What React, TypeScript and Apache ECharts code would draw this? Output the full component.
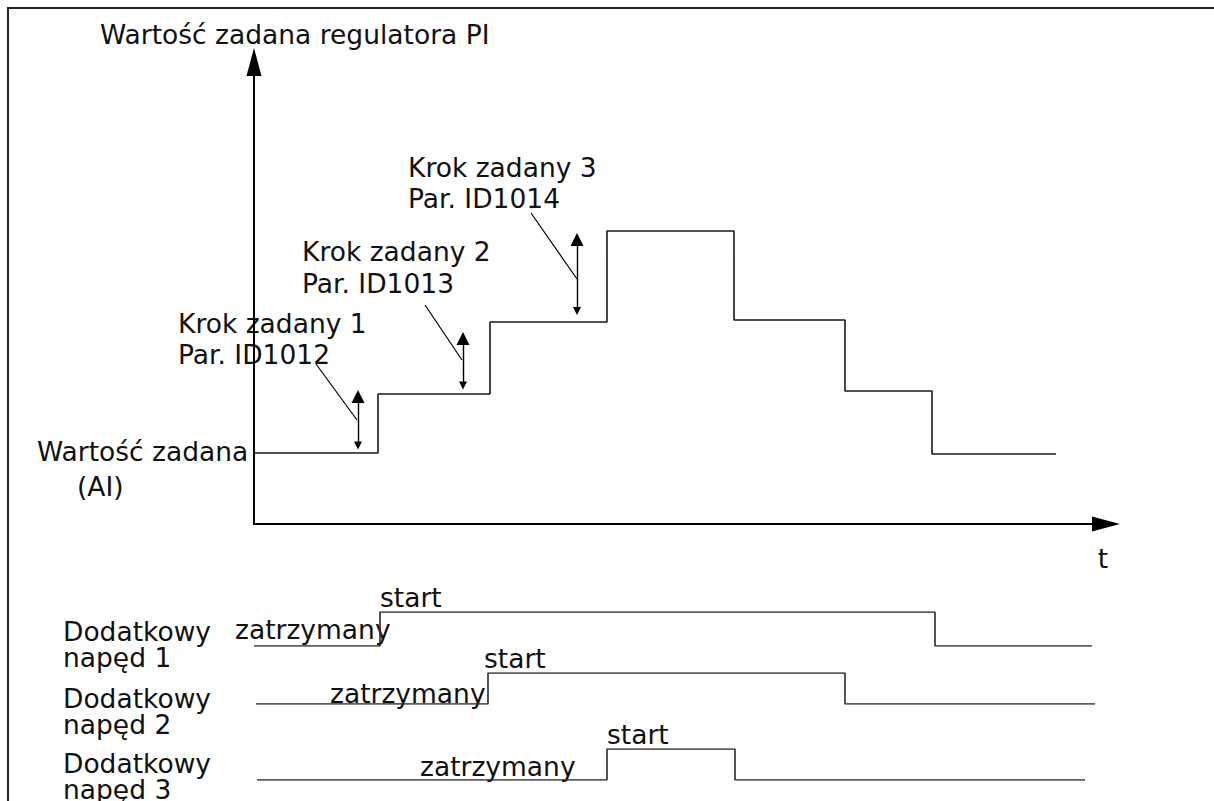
import React, { useEffect, useRef } from "react";
import * as echarts from "echarts";

// time axis (arbitrary units) and set-point levels
const setpointTimes = [0, 12.4, 23.6, 35.3, 48.0, 59.1, 67.8, 80.2];
const setpointLevels = [7.1, 13.0, 20.2, 29.3, 20.4, 13.3, 7.0, 7.0];

// auxiliary drives: 0 = zatrzymany, 1 = start
const drive1Times = [0, 12.6, 68.1, 83.8];
const drive1States = [0, 1, 0, 0];
const drive2Times = [0.2, 23.4, 59.1, 84.1];
const drive2States = [0, 1, 0, 0];
const drive3Times = [0.3, 35.3, 48.1, 83.1];
const drive3States = [0, 1, 0, 0];

// step-size double arrows: time, lower head, upper head
const arrowTimes = [10.4, 20.9, 32.3];
const arrowLow = [7.85, 13.85, 21.3];
const arrowHigh = [12.75, 18.55, 28.45];

// leader lines from labels to the arrows
const leaderFrom = [[6.2, 16.0], [17.1, 21.9], [27.7, 31.1]];
const leaderTo = [[10.3, 10.4], [20.8, 16.4], [32.3, 24.5]];

const stepLabels = ["Krok zadany 1\nPar. ID1012", "Krok zadany 2\nPar. ID1013", "Krok zadany 3\nPar. ID1014"];
const driveLabels = ["Dodatkowy\nnapęd 1", "Dodatkowy\nnapęd 2", "Dodatkowy\nnapęd 3"];
const stateStopped = "zatrzymany";
const stateStarted = "start";

const X_MAX = 85.2;
const Y_MAX = 46.2;

const FONT = "DejaVu Sans";
const FS = 26.5;
const INK = "#1a1a1a";

function zip(a: number[], b: number[]) {
  return a.map((v, i) => [v, b[i]]);
}

export default function App() {
  const ref = useRef<HTMLDivElement>(null);
  useEffect(() => {
    if (!ref.current) return;
    const chart = echarts.init(ref.current, null, { renderer: "svg" });

    const txt = (text: string, x: number, y: number, extra: any = {}) => ({
      type: "text",
      x,
      y,
      style: {
        text,
        font: `${FS}px "${FONT}"`,
        fill: "#111",
        verticalAlign: "middle",
        align: "left",
        ...extra,
      },
    });

    const hiddenAxis = (max: number, gridIndex: number) => ({
      type: "value",
      min: 0,
      max,
      gridIndex,
      show: false,
    });

    const driveSeries = (times: number[], states: number[], idx: number) => ({
      type: "line",
      xAxisIndex: idx,
      yAxisIndex: idx,
      step: "end",
      symbol: "none",
      data: zip(times, states),
      lineStyle: { color: "#2a2a2a", width: 1.6 },
      silent: true,
    });

    const option: any = {
      animation: false,
      backgroundColor: "#ffffff",
      grid: [
        { left: 254, top: 62, width: 852, height: 462 },
        { left: 254, top: 612, width: 852, height: 34 },
        { left: 254, top: 673, width: 852, height: 31 },
        { left: 254, top: 749, width: 852, height: 31 },
      ],
      xAxis: [
        {
          type: "value",
          min: 0,
          max: X_MAX,
          gridIndex: 0,
          axisLine: {
            show: true,
            onZero: false,
            symbol: ["none", "triangle"],
            symbolSize: [15, 28],
            lineStyle: { color: "#000", width: 2 },
          },
          axisTick: { show: false },
          axisLabel: { show: false },
          splitLine: { show: false },
        },
        hiddenAxis(X_MAX, 1),
        hiddenAxis(X_MAX, 2),
        hiddenAxis(X_MAX, 3),
      ],
      yAxis: [
        {
          type: "value",
          min: 0,
          max: Y_MAX,
          gridIndex: 0,
          axisLine: {
            show: true,
            onZero: false,
            symbol: ["none", "triangle"],
            symbolSize: [15, 28],
            lineStyle: { color: "#000", width: 2 },
          },
          axisTick: { show: false },
          axisLabel: { show: false },
          splitLine: { show: false },
        },
        hiddenAxis(1, 1),
        hiddenAxis(1, 2),
        hiddenAxis(1, 3),
      ],
      series: [
        {
          type: "line",
          xAxisIndex: 0,
          yAxisIndex: 0,
          step: "end",
          symbol: "none",
          data: zip(setpointTimes, setpointLevels),
          lineStyle: { color: INK, width: 1.6 },
          silent: true,
        },
        {
          type: "lines",
          coordinateSystem: "cartesian2d",
          xAxisIndex: 0,
          yAxisIndex: 0,
          symbol: ["triangle", "triangle"],
          symbolSize: [8, 13],
          lineStyle: { color: "#000", width: 1.4, opacity: 1 },
          data: arrowTimes.map((t, i) => ({
            coords: [
              [t, arrowLow[i]],
              [t, arrowHigh[i]],
            ],
          })),
          silent: true,
        },
        {
          type: "lines",
          coordinateSystem: "cartesian2d",
          xAxisIndex: 0,
          yAxisIndex: 0,
          symbol: ["none", "none"],
          lineStyle: { color: "#000", width: 1.2, opacity: 1 },
          data: leaderFrom.map((p, i) => ({ coords: [p, leaderTo[i]] })),
          silent: true,
        },
        driveSeries(drive1Times, drive1States, 1),
        driveSeries(drive2Times, drive2States, 2),
        driveSeries(drive3Times, drive3States, 3),
      ],
      graphic: [
        {
          type: "rect",
          shape: { x: 8, y: 8, width: 1400, height: 1000 },
          style: { fill: "none", stroke: "#222", lineWidth: 2 },
          silent: true,
        },
        txt("Wartość zadana regulatora PI", 100, 34),
        txt(stepLabels[2], 408, 182.5, { lineHeight: 31 }),
        txt(stepLabels[1], 302, 267, { lineHeight: 32 }),
        txt(stepLabels[0], 178, 338.5, { lineHeight: 31 }),
        txt("Wartość zadana", 37, 451),
        txt("(AI)", 77, 486),
        txt("t", 1103, 558, { align: "center" }),
        txt(driveLabels[0], 63, 644, { lineHeight: 26 }),
        txt(driveLabels[1], 63, 711, { lineHeight: 26 }),
        txt(driveLabels[2], 63, 776.5, { lineHeight: 26 }),
        txt(stateStopped, 235, 629),
        txt(stateStarted, 380, 597),
        txt(stateStopped, 330, 693),
        txt(stateStarted, 484, 658),
        txt(stateStopped, 420, 766),
        txt(stateStarted, 607, 734),
      ],
    };

    chart.setOption(option);
    return () => chart.dispose();
  }, []);

  return (
    <div
      ref={ref}
      style={{ position: "fixed", left: 0, top: 0, width: 1214, height: 801, background: "#fff" }}
    />
  );
}
